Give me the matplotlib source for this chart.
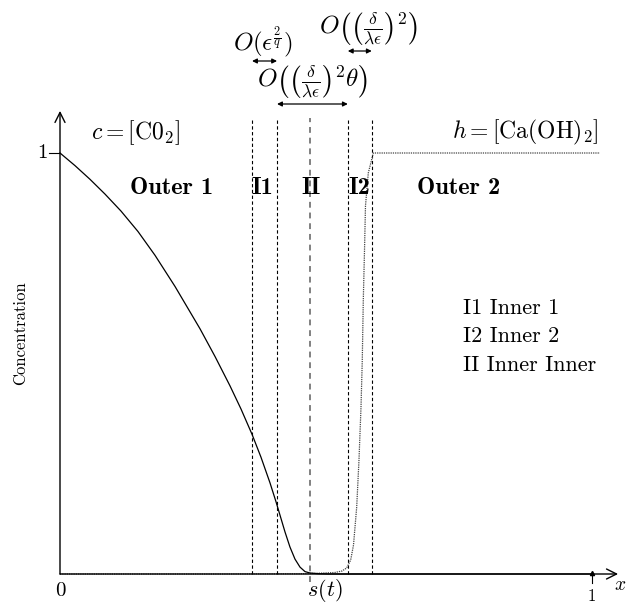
import numpy as np
import matplotlib
matplotlib.use("Agg")
import matplotlib.pyplot as plt

plt.rcParams['mathtext.fontset'] = 'cm'
plt.rcParams['font.family'] = ['cmr10', 'DejaVu Serif']
plt.rcParams['axes.formatter.use_mathtext'] = True

# ---- data ----
c_x = [0.0, 0.0282, 0.0564, 0.0846, 0.1147, 0.1466, 0.1786, 0.2162, 0.2632,
       0.2914, 0.3195, 0.3402, 0.3609, 0.3778, 0.3947, 0.406, 0.4135, 0.4229,
       0.4323, 0.4417, 0.4511, 0.4605, 0.4699, 0.485, 0.5038, 0.56, 1.0]
c_y = [1.0, 0.970, 0.9375, 0.9024, 0.862, 0.8135, 0.757, 0.683, 0.5824,
       0.5166, 0.447, 0.392, 0.332, 0.2774, 0.2166, 0.1717, 0.1399, 0.100,
       0.0639, 0.0354, 0.0164, 0.0057, 0.0024, 0.0007, 0.0, 0.0, 0.0]

h_x = [0.0, 0.30, 0.451, 0.4887, 0.5169, 0.5301, 0.5389, 0.5464, 0.5517,
       0.5577, 0.562, 0.5658, 0.5682, 0.5701, 0.5724, 0.5742, 0.5795, 0.5889,
       1.015]
h_y = [0.0, 0.0, 0.0005, 0.0019, 0.0036, 0.0071, 0.0143, 0.0333, 0.0689,
       0.159, 0.2708, 0.3967, 0.5083, 0.6508, 0.7696, 0.8741, 0.9525, 1.0,
       1.0]

zone_bounds = [0.361, 0.408, 0.470, 0.541, 0.586]
s_t = 0.470

zone_names = ["Outer 1", "I1", "II", "I2", "Outer 2"]
zone_x = [0.2105, 0.381, 0.472, 0.562, 0.749]

legend_lines = ["I1 Inner 1", "I2 Inner 2", "II Inner Inner"]

W, H = 627, 605
fig = plt.figure(figsize=(W / 100, H / 100), dpi=100)
ax = fig.add_axes([0, 0, 1, 1])
# mapping: x=0 at px 60, x=1 at px 592; y=0 at py 574, y=1 at py 153
sx, sy = 532.0, 421.0
ax.set_xlim(-60 / sx, (W - 60) / sx)
ax.set_ylim((574 - H) / sy, 574 / sy)
ax.axis('off')

# axes with arrows
ax.annotate('', xy=(1.049, 0), xytext=(0, 0),
            arrowprops=dict(arrowstyle='->', lw=1.0, color='black',
                            shrinkA=0, shrinkB=0, mutation_scale=18))
ax.annotate('', xy=(0, 1.10), xytext=(0, 0),
            arrowprops=dict(arrowstyle='->', lw=1.0, color='black',
                            shrinkA=0, shrinkB=0, mutation_scale=18))
# ticks
ax.plot([-0.02, 0], [1, 1], color='black', lw=0.8)
ax.plot([1, 1], [0.003, -0.021], color='black', lw=0.8)
ax.plot([1], [0.003], marker='^', ms=3, color='black')

# vertical zone lines
for xb in zone_bounds:
    if xb == s_t:
        ax.plot([xb, xb], [-0.02, 1.083], color='#808080', lw=1.4,
                linestyle=(0, (3, 2.5)))
    else:
        ax.plot([xb, xb], [0, 1.083], color='black', lw=0.8,
                linestyle=(0, (3, 2.2)))

# curves
ax.plot(h_x, h_y, color='#444444', lw=0.9, linestyle=(0, (1, 0.8)))
ax.plot(c_x, c_y, color='black', lw=0.9)

# labels
ax.text(-0.033, 1.0, '1', fontsize=15, ha='center', va='center')
ax.text(0.0, -0.040, '0', fontsize=15, ha='center', va='center')
ax.text(1.0, -0.052, '1', fontsize=12, ha='center', va='center')
ax.text(1.052, -0.026, r'$x$', fontsize=14, ha='center', va='center')
ax.text(0.498, -0.040, r'$s(t)$', fontsize=16, ha='center', va='center')
ax.text(-0.075, 0.573, 'Concentration', fontsize=12, rotation=90,
        ha='center', va='center')

ax.text(0.141, 1.048, r'$c = [\mathrm{C0}_2]$', fontsize=17, ha='center',
        va='center')
ax.text(0.875, 1.048, r'$h = [\mathrm{Ca(OH)}_2]$', fontsize=17,
        ha='center', va='center')

for name, zx in zip(zone_names, zone_x):
    ax.text(zx, 0.917, name, fontsize=17.5, family='cmb10', ha='center',
            va='center')

for k, line in enumerate(legend_lines):
    ax.text(0.7575, 0.632 - k * 0.068, line, fontsize=16, ha='left',
            va='center')

# top scale annotations
def dbl_arrow(x0, x1, y):
    ax.annotate('', xy=(x1, y), xytext=(x0, y),
                arrowprops=dict(arrowstyle='<|-|>', lw=0.9, color='black',
                                shrinkA=0, shrinkB=0, mutation_scale=7),
                annotation_clip=False)

dbl_arrow(zone_bounds[0], zone_bounds[1], (574 - 61) / sy)
ax.text((263 - 60) / sx, (574 - 42) / sy, r'$O(\epsilon^{\frac{2}{q}})$',
        fontsize=18, ha='center', va='center')

dbl_arrow(zone_bounds[3], zone_bounds[4], (574 - 51) / sy)
ax.text((369 - 60) / sx, (574 - 29) / sy,
        r'$O\left(\left(\frac{\delta}{\lambda\epsilon}\right)^2\right)$',
        fontsize=18, ha='center', va='center')

dbl_arrow(zone_bounds[1], zone_bounds[3], (574 - 104) / sy)
ax.text((312 - 60) / sx, (574 - 82) / sy,
        r'$O\left(\left(\frac{\delta}{\lambda\epsilon}\right)^2\theta\right)$',
        fontsize=18, ha='center', va='center')

fig.savefig('out.png', dpi=100)
